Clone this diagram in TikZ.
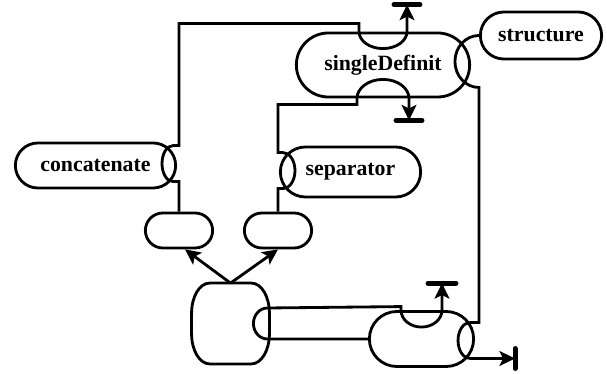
\documentclass[tikz,border=0pt]{standalone}
\usepackage{fontspec}
\setmainfont{Liberation Serif}
\usetikzlibrary{arrows.meta,calc,shapes.misc}

\begin{document}
\begin{tikzpicture}[x=0.025cm,y=0.025cm,line width=2pt,
	pill/.style 2 args={draw,rounded rectangle,inner xsep=-4pt,inner ysep=0pt,minimum width=#1,minimum height=#2,font=\bfseries\fontsize{15.5}{18}\selectfont},
	flow/.style={-{Stealth[length=11pt,width=10.5pt,inset=2.5pt]}},
	stopbar/.style={line width=3.5pt,line cap=round}]
	\useasboundingbox (0,0) rectangle (607,374);
	% Vẽ các nút
	\node[pill={4.05cm}{1.6cm}] (sd) at (383,309) {singleDefinit};
	\node[pill={2.75cm}{1.175cm}] (st) at (541,338.5) {structure};
	\node[pill={3.725cm}{1.125cm}] (cc) at (95.5,208.5) {concatenate};
	\node[pill={3.225cm}{1.25cm}] (sp) at (350.5,202) {separator};
	\node[pill={1.4cm}{0.875cm}] (b1) at (179,143.5) {};
	\node[pill={1.4cm}{0.875cm}] (b2) at (278,143.5) {};
	\node[pill={2.325cm}{1.375cm}] (br) at (421.5,35) {};
	\node[minimum width=1.875cm,minimum height=1.95cm,inner sep=0pt] (root) at (230.5,50.5) {};
	% Nút gốc hình thùng
	\draw ($(root.north west)+(18,0)$) -- ($(root.north east)+(-18,0)$)
		arc[start angle=90,end angle=0,x radius=18,y radius=30] -- ($(root.south east)+(0,30)$)
		arc[start angle=0,end angle=-90,x radius=18,y radius=30] -- ($(root.south west)+(18,0)$)
		arc[start angle=270,end angle=180,x radius=18,y radius=30] -- ($(root.north west)+(0,-30)$)
		arc[start angle=180,end angle=90,x radius=18,y radius=30] -- cycle;
	% Điểm cuối
	\coordinate (e1) at ($(sd.north)+(24,27)$);
	\coordinate (e2) at ($(sd.south)+(26,-22)$);
	\coordinate (e3) at ($(br.north)+(20.5,27)$);
	\coordinate (e4) at ($(br.east)+(40,-19.5)$);
	% Nhánh qua concatenate
	\draw[flow] (b1.north) -- ++(0,30) -- ++(-6,0)
		arc[start angle=270,end angle=90,x radius=11,y radius=18] -- ++(6,0)
		|- ($(sd.north)+(-24,8)$) -- ++(0,-8)
		arc[start angle=180,end angle=360,x radius=24,y radius=17] -- (e1);
	% Nhánh qua separator
	\draw[flow] (b2.north) -- ++(0,23) -- ++(5,0)
		arc[start angle=-90,end angle=90,x radius=12,y radius=18] -- ++(-5,0)
		|- ($(sd.south)+(-26,-6)$) -- ++(0,6)
		arc[start angle=180,end angle=0,x radius=26,y radius=19] -- (e2);
	% structure xuống nút dưới
	\draw[flow] (st.west) arc[start angle=90,end angle=270,x radius=24,y radius=26]
		|- ($(br.east)+(-5,16.5)$)
		arc[start angle=90,end angle=270,x radius=12,y radius=18] -- (e4);
	% Hai đường nối dưới
	\draw[flow] (br.west) -- ($(root.east)+(-2,-15.5)$)
		arc[start angle=270,end angle=90,x radius=14,y radius=15.5]
		-- ($(br.north)+(-20.5,3.5)$) -- ++(0,-3.5)
		arc[start angle=180,end angle=360,x radius=20.5,y radius=17] -- (e3);
	% Mũi tên lên hai hộp nhỏ
	\draw[flow] (root.north) -- ($(b1.south)+(6,0)$);
	\draw[flow] (root.north) -- (b2.south);
	% Thanh chặn
	\draw[stopbar] ($(e1)+(-13,0)$) -- ($(e1)+(13,0)$);
	\draw[stopbar] ($(e2)+(-13,0)$) -- ($(e2)+(13,0)$);
	\draw[stopbar] ($(e3)+(-14,0)$) -- ($(e3)+(14,0)$);
	\draw[stopbar] ($(e4)+(0,-10)$) -- ($(e4)+(0,10)$);
\end{tikzpicture}
\end{document}
